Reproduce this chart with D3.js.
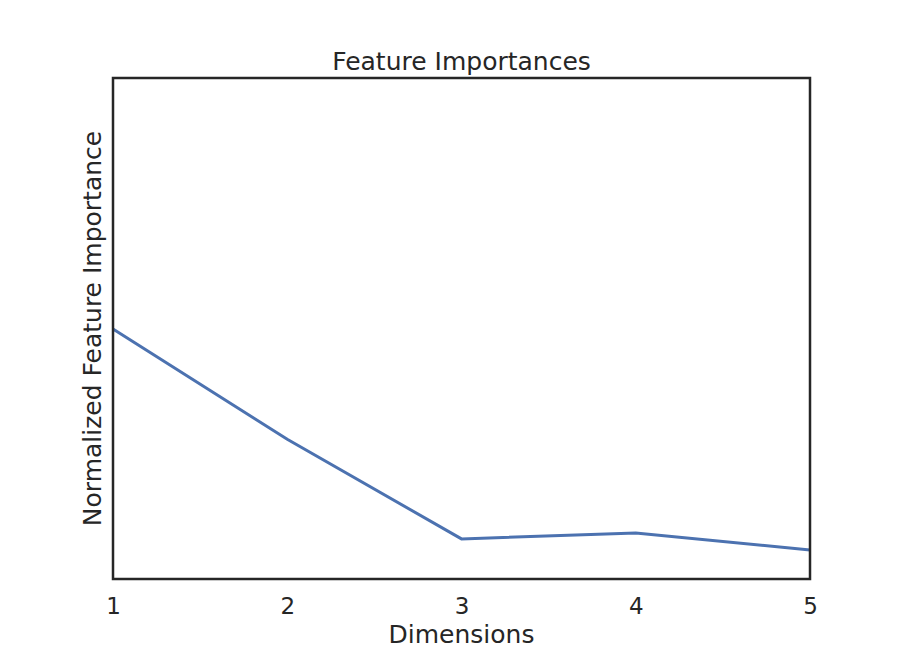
<!DOCTYPE html>
<html>
<head>
<meta charset="utf-8">
<script src="https://cdn.jsdelivr.net/npm/d3@7"></script>
<style>
  body { margin: 0; background: #fff; }
  text { font-family: "DejaVu Sans", sans-serif; fill: #262626; }
</style>
</head>
<body>
<script>
// data
var dimensions = [1, 2, 3, 4, 5];
var importances = [0.499, 0.279, 0.080, 0.092, 0.058];
var xTicks = [1, 2, 3, 4, 5];

var width = 900, height = 650;
var margin = {top: 78, right: 90, bottom: 71, left: 113};
var innerW = width - margin.left - margin.right;
var innerH = height - margin.top - margin.bottom;

var svg = d3.select('body').append('svg')
  .attr('width', width)
  .attr('height', height);

var x = d3.scaleLinear().domain([1, 5]).range([0, innerW]);
var y = d3.scaleLinear().domain([0, 1]).range([innerH, 0]);

var g = svg.append('g')
  .attr('transform', 'translate(' + margin.left + ',' + margin.top + ')');

// x axis, no tick marks
var xAxis = g.append('g')
  .attr('transform', 'translate(0,' + innerH + ')')
  .call(d3.axisBottom(x).tickValues(xTicks).tickFormat(d3.format('d')).tickSize(0).tickPadding(19));
xAxis.select('.domain').remove();
xAxis.selectAll('text')
  .style('font-size', '23px')
  .style('font-family', '"DejaVu Sans", sans-serif')
  .attr('fill', '#262626');

var line = d3.line()
  .x(function(d, i) { return x(dimensions[i]); })
  .y(function(d) { return y(d); });

g.append('path')
  .datum(importances)
  .attr('d', line)
  .attr('fill', 'none')
  .attr('stroke', '#4c72b0')
  .attr('stroke-width', 3);

// frame
g.append('rect')
  .attr('x', 0).attr('y', 0)
  .attr('width', innerW).attr('height', innerH)
  .attr('fill', 'none')
  .attr('stroke', '#262626')
  .attr('stroke-width', 2.5);

svg.append('text')
  .attr('x', margin.left + innerW / 2)
  .attr('y', 70)
  .attr('text-anchor', 'middle')
  .style('font-size', '25px')
  .text('Feature Importances');

svg.append('text')
  .attr('x', margin.left + innerW / 2)
  .attr('y', 643)
  .attr('text-anchor', 'middle')
  .style('font-size', '25px')
  .text('Dimensions');

svg.append('text')
  .attr('transform', 'translate(101,' + (margin.top + innerH / 2) + ') rotate(-90)')
  .attr('text-anchor', 'middle')
  .style('font-size', '25px')
  .text('Normalized Feature Importance');
</script>
</body>
</html>
